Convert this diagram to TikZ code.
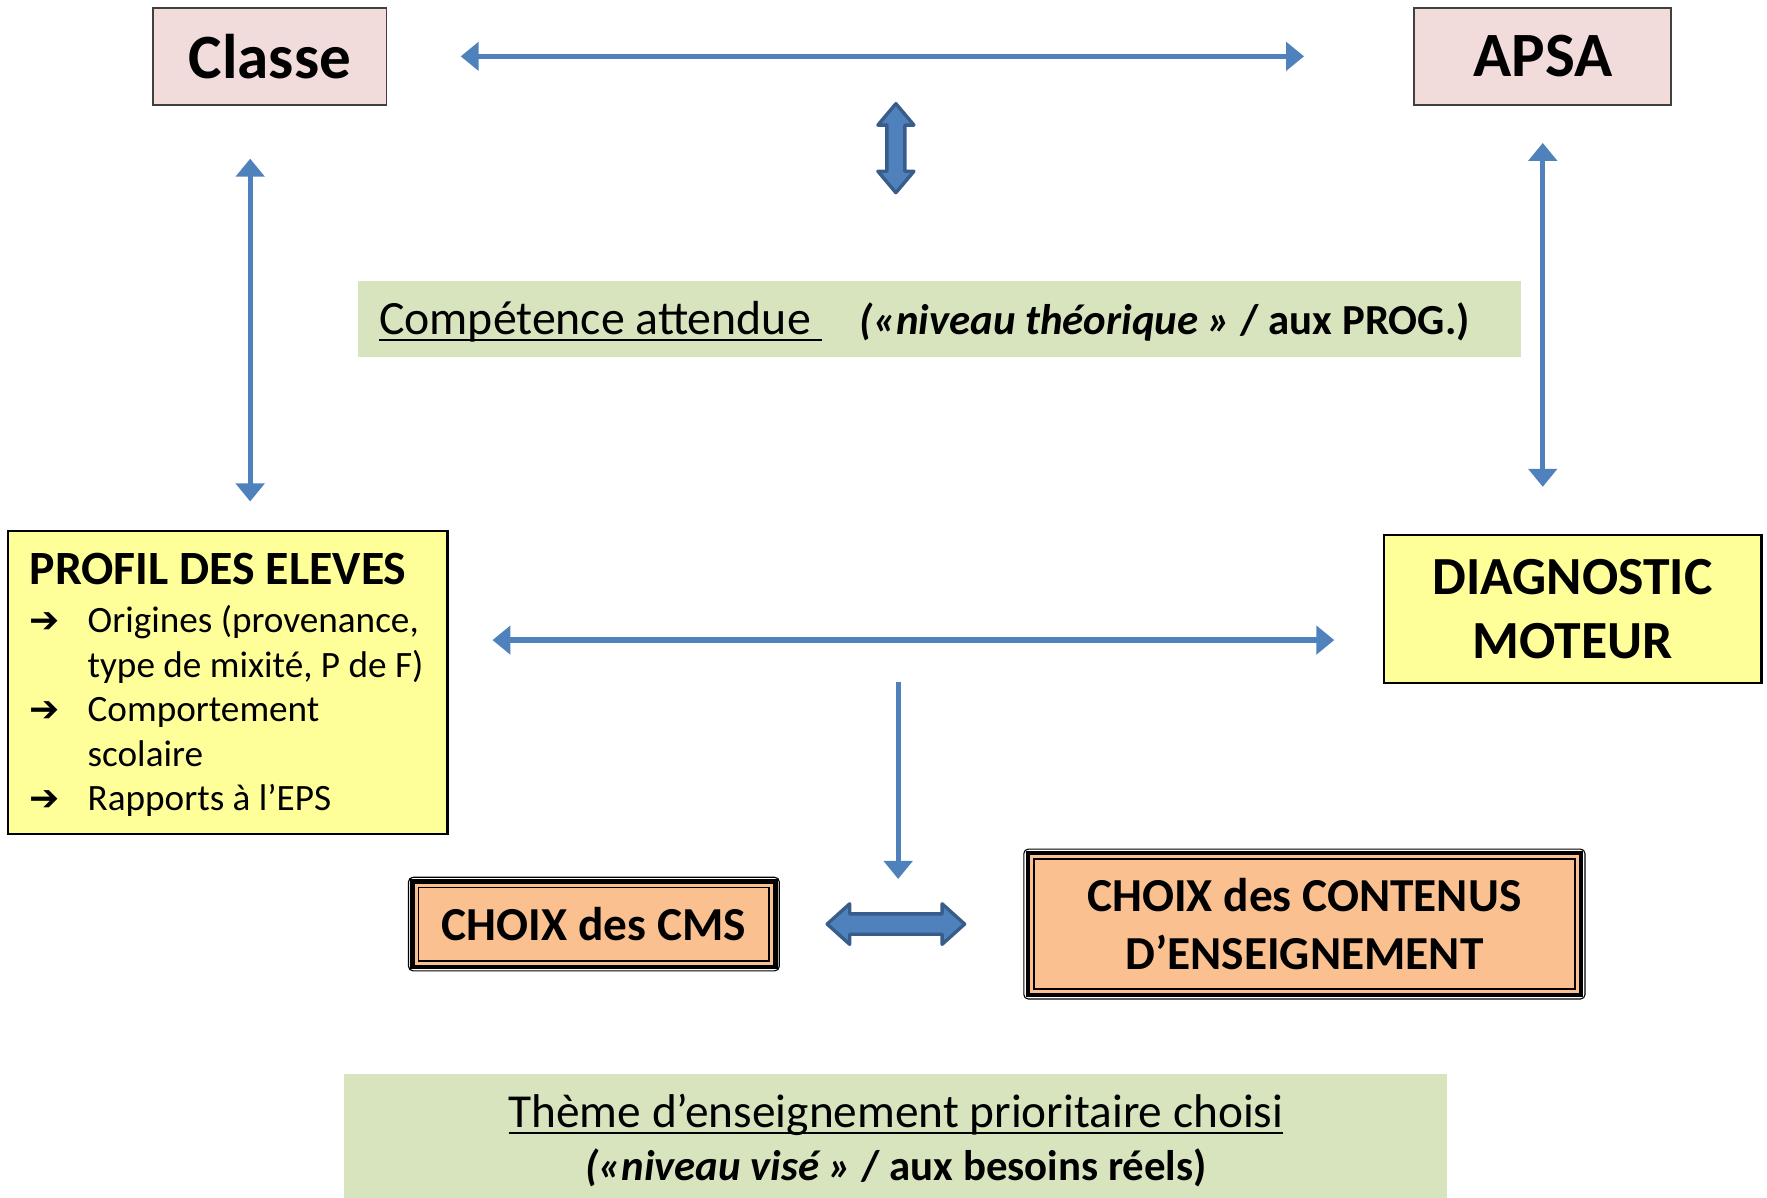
\documentclass[tikz,border=0pt]{standalone}
\usepackage{fontspec}
\setmainfont{Carlito}
\newfontfamily\symbole{DejaVu Sans}
\usetikzlibrary{arrows.meta}

\definecolor{rose}{HTML}{F2DCDB}
\definecolor{jaune}{HTML}{FFFF99}
\definecolor{orangeclair}{HTML}{FAC090}
\definecolor{vertclair}{HTML}{D7E4BD}
\definecolor{bleu}{HTML}{4F81BD}
\definecolor{bleufonce}{HTML}{385D8A}

\newcommand{\puce}{{\symbole\fontsize{16}{16}\selectfont ➔}}
\newcommand{\souligne}[1]{{\setbox0\hbox{#1}\rlap{\rule[-3pt]{\wd0}{1pt}}\box0}}

\begin{document}
\begin{tikzpicture}[x=0.5pt,y=-0.5pt,>={Triangle[width=12.5pt,length=8pt]}]
    \tikzstyle{etiquette}=[draw=black!75,fill=rose,line width=0.8pt,inner sep=0pt,minimum height=43pt,font=\fontsize{28}{32}\selectfont\bfseries]
    \tikzstyle{cadre jaune}=[draw=black,fill=jaune,line width=1pt,inner sep=0pt]
    \tikzstyle{choix}=[draw=black,fill=orangeclair,line width=2pt,inner sep=0pt,align=center,font=\fontsize{21}{25.5}\selectfont\bfseries]
    \tikzstyle{bandeau}=[fill=vertclair,inner sep=0pt]
    \tikzstyle{liaison}=[draw=bleu,line width=2.3pt]
    \tikzstyle{grosse fleche}=[fill=bleu,draw=bleufonce,line width=1.5pt,line join=round]

    \useasboundingbox (0,0) rectangle (1568,1063);

    % Classe et APSA
    \node[etiquette,minimum width=103.5pt] (classe) at (239.5,50) {Classe};
    \node[etiquette,minimum width=114pt] (apsa) at (1369,50) {APSA};

    % Competence attendue
    \node[bandeau,minimum width=516pt,minimum height=34pt] (competence) at (834,283) {};
    \node[anchor=base west,inner sep=0pt,font=\fontsize{21.2}{25}\selectfont] (competencetxt) at (336,297)
        {\souligne{Compétence attendue\ }\hspace{17pt}{\fontsize{19}{23}\selectfont\bfseries\itshape («niveau théorique »\upshape\ / aux PROG.)}};

    % Profil des eleves
    \node[cadre jaune,minimum width=195pt,minimum height=134.5pt] (profil) at (202,605.5) {};
    \node[anchor=base west,inner sep=0pt,font=\fontsize{16.5}{19.7}\selectfont] (profiltxt) at (26,519) {%
        \begin{tabular}[t]{@{}p{25.7pt}@{}l@{}}
        \multicolumn{2}{@{}l@{}}{\fontsize{21.2}{24}\selectfont\bfseries PROFIL DES ELEVES}\\[1.6pt]
        \puce & Origines (provenance,\\
              & type de mixité, P de F)\\
        \puce & Comportement\\
              & scolaire\\
        \puce & Rapports à l’EPS
        \end{tabular}};

    % Diagnostic moteur
    \node[cadre jaune,minimum width=167.5pt,minimum height=65.5pt,align=center,font=\fontsize{23.8}{28.7}\selectfont\bfseries] (diagnostic) at (1395.5,540.5) {DIAGNOSTIC\\MOTEUR};

    % Choix
    \node[choix,minimum width=161pt,minimum height=38pt] (cms) at (527,820) {CHOIX des CMS};
    \node[choix,minimum width=245.5pt,minimum height=63pt] (contenus) at (1157.5,820) {CHOIX des CONTENUS\\D’ENSEIGNEMENT};
    \foreach \boite in {cms,contenus}{
        \draw[line width=0.5pt,rounded corners=2pt] ([shift={(-1.5,-1.5)}]\boite.north west) rectangle ([shift={(1.5,1.5)}]\boite.south east);
        \draw[line width=0.75pt] ([shift={(7.5,7.5)}]\boite.north west) rectangle ([shift={(-7.5,-7.5)}]\boite.south east);
    }

    % Theme d'enseignement
    \node[bandeau,minimum width=489.5pt,minimum height=55pt] (theme) at (794.5,1008) {};
    \node[inner sep=0pt,align=center,font=\fontsize{21}{23.5}\selectfont] (themetxt) at (795,1012)
        {\souligne{Thème d’enseignement prioritaire choisi}\\{\fontsize{19}{23.5}\selectfont\bfseries\itshape («niveau visé »\upshape\ / aux besoins réels)}};

    % Liaisons
    \coordinate (axeG) at (222,0);
    \coordinate (axeM) at (0,568);
    \coordinate (carrefour) at (797,568);
    \draw[liaison,<->,shorten <=32.5pt,shorten >=48.5pt] (classe) -- (apsa);
    \draw[liaison,<->,shorten <=23.5pt,shorten >=12.5pt] (classe.south -| axeG) -- (profil.north -| axeG);
    \draw[liaison,<->,shorten <=16.5pt,shorten >=21pt] (apsa.south) -- (diagnostic.north -| apsa.south);
    \draw[liaison,<->,shorten <=19.5pt,shorten >=21.5pt] (profil.east |- axeM) -- (diagnostic.west |- axeM);
    \draw[liaison,->,shorten <=18.5pt] (carrefour) -- (carrefour |- cms.north);

    % Grosses fleches
    \draw[grosse fleche] (795,92) -- ++(16,19) -- ++(-8,0) -- ++(0,41) -- ++(8,0) -- (795,171)
        -- ++(-16,-19) -- ++(8,0) -- ++(0,-41) -- ++(-8,0) -- cycle;
    \draw[grosse fleche] (734,820) -- ++(20,-18) -- ++(0,9) -- ++(82,0) -- ++(0,-9) -- (856,820)
        -- ++(-20,18) -- ++(0,-9) -- ++(-82,0) -- ++(0,9) -- cycle;
\end{tikzpicture}
\end{document}
